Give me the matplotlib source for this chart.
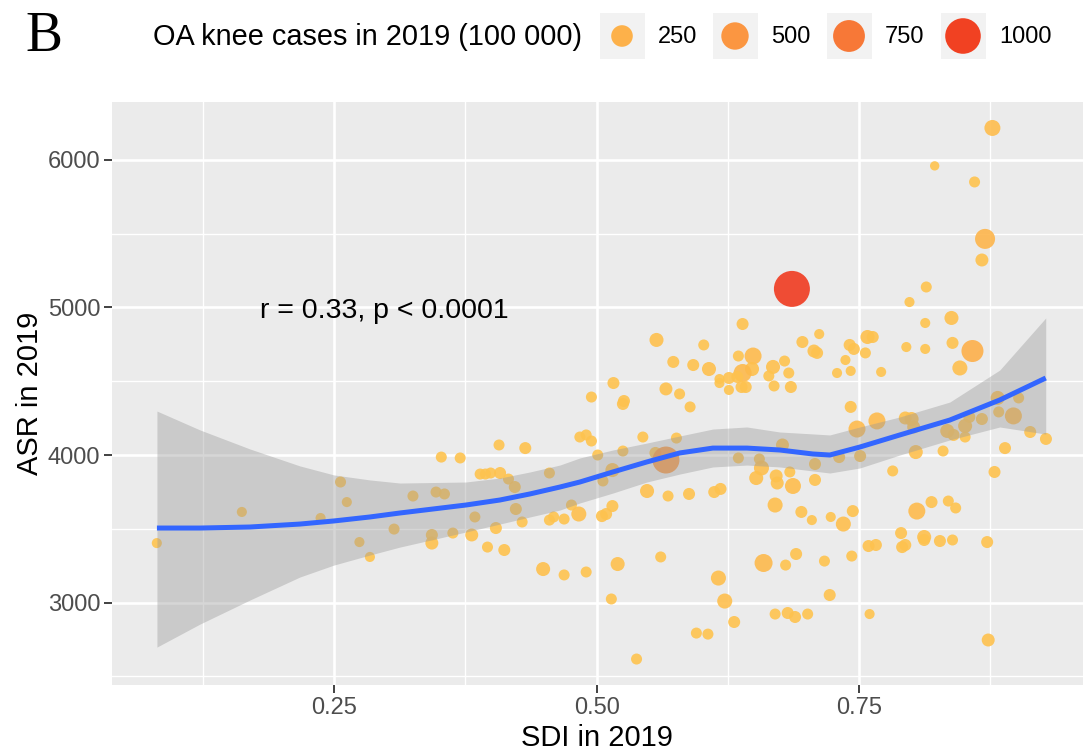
import numpy as np
import matplotlib
matplotlib.use("Agg")
import matplotlib.pyplot as plt
from matplotlib.colors import LinearSegmentedColormap, Normalize
from matplotlib.patches import Rectangle

plt.rcParams['font.family'] = ['Liberation Sans', 'DejaVu Sans']

# one point per country: SDI, age-standardised rate, OA knee cases (100 000)
sdi = [0.081, 0.162, 0.237, 0.256, 0.262, 0.274, 0.284, 0.307, 0.325, 0.343,
       0.343, 0.347, 0.355, 0.352, 0.370, 0.363, 0.381, 0.384, 0.389, 0.394,
       0.399, 0.408, 0.407, 0.396, 0.404, 0.412, 0.416, 0.422, 0.423, 0.429,
       0.432, 0.449, 0.455, 0.469, 0.490, 0.455, 0.459, 0.469, 0.476, 0.483,
       0.495, 0.484, 0.490, 0.495, 0.501, 0.505, 0.509, 0.515, 0.686, 0.639,
       0.712, 0.557, 0.602, 0.696, 0.707, 0.710, 0.573, 0.592, 0.607, 0.635,
       0.649, 0.648, 0.639, 0.634, 0.626, 0.617, 0.617, 0.626, 0.638, 0.642,
       0.668, 0.664, 0.679, 0.683, 0.669, 0.685, 0.516, 0.526, 0.525, 0.566,
       0.579, 0.589, 0.544, 0.576, 0.525, 0.515, 0.506, 0.556, 0.566, 0.548,
       0.568, 0.588, 0.612, 0.618, 0.677, 0.635, 0.655, 0.657, 0.652, 0.671,
       0.672, 0.684, 0.687, 0.708, 0.708, 0.520, 0.561, 0.514, 0.538, 0.616,
       0.622, 0.631, 0.595, 0.606, 0.659, 0.680, 0.690, 0.717, 0.722, 0.670,
       0.682, 0.689, 0.701, 0.670, 0.695, 0.705, 0.723, 0.735, 0.744, 0.743,
       0.760, 0.731, 0.751, 0.742, 0.748, 0.767, 0.794, 0.800, 0.802, 0.804,
       0.782, 0.830, 0.834, 0.840, 0.851, 0.851, 0.855, 0.867, 0.882, 0.883,
       0.897, 0.902, 0.913, 0.928, 0.889, 0.879, 0.805, 0.819, 0.835, 0.842,
       0.790, 0.812, 0.812, 0.827, 0.839, 0.872, 0.791, 0.794, 0.759, 0.766,
       0.873, 0.877, 0.822, 0.860, 0.870, 0.867, 0.814, 0.798, 0.838, 0.813,
       0.741, 0.745, 0.758, 0.763, 0.756, 0.737, 0.729, 0.742, 0.771, 0.795,
       0.813, 0.839, 0.858, 0.846]
asr = [3403, 3614, 3573, 3817, 3681, 3410, 3309, 3498, 3722, 3458,
       3403, 3749, 3736, 3986, 3980, 3471, 3458, 3580, 3871, 3871,
       3878, 3878, 4068, 3376, 3505, 3356, 3837, 3783, 3634, 3546,
       4047, 3227, 3878, 3187, 3207, 3559, 3580, 3566, 3661, 3600,
       4393, 4122, 4136, 4095, 4000, 3586, 3600, 3654, 5126, 4888,
       4820, 4780, 4746, 4766, 4705, 4692, 4631, 4610, 4583, 4671,
       4671, 4583, 4556, 4529, 4522, 4515, 4488, 4441, 4461, 4461,
       4597, 4536, 4637, 4556, 4468, 4461, 4488, 4366, 4346, 4448,
       4414, 4326, 4122, 4115, 4027, 3898, 3824, 4014, 3966, 3756,
       3722, 3736, 3749, 3770, 4068, 3980, 3973, 3912, 3844, 3858,
       3810, 3885, 3790, 3939, 3831, 3261, 3309, 3024, 2617, 3166,
       3010, 2868, 2793, 2786, 3268, 3254, 3329, 3281, 3051, 2922,
       2929, 2902, 2922, 3661, 3614, 3559, 3580, 3532, 3620, 3315,
       2922, 3986, 3993, 4326, 4176, 4231, 4251, 4244, 4190, 4020,
       3892, 4027, 4163, 4136, 4197, 4122, 4258, 4244, 4387, 4292,
       4265, 4387, 4156, 4109, 4047, 3885, 3620, 3681, 3688, 3641,
       3471, 3444, 3424, 3417, 3424, 3410, 3376, 3390, 3383, 3390,
       2746, 6217, 5960, 5851, 5465, 5322, 5139, 5037, 4929, 4895,
       4746, 4719, 4800, 4800, 4692, 4644, 4556, 4570, 4563, 4732,
       4719, 4760, 4705, 4590]
cases = [8, 8, 8, 15, 8, 8, 8, 15, 15, 25,
         37, 15, 15, 15, 15, 15, 37, 15, 15, 15,
         15, 25, 15, 15, 25, 25, 15, 25, 25, 15,
         25, 53, 15, 15, 15, 15, 15, 15, 15, 71,
         15, 15, 15, 15, 15, 25, 25, 25, 1030, 25,
         8, 53, 15, 25, 37, 25, 25, 25, 53, 15,
         113, 53, 138, 25, 25, 8, 8, 8, 25, 25,
         53, 15, 15, 15, 15, 25, 25, 25, 25, 37,
         15, 15, 15, 15, 15, 53, 15, 25, 480, 53,
         15, 25, 25, 25, 37, 15, 15, 71, 53, 37,
         37, 15, 90, 25, 25, 53, 15, 15, 15, 71,
         71, 25, 15, 15, 138, 15, 25, 15, 25, 15,
         25, 25, 15, 71, 25, 8, 8, 71, 25, 15,
         8, 25, 25, 25, 113, 113, 37, 53, 37, 53,
         15, 15, 53, 25, 53, 15, 25, 25, 53, 15,
         113, 15, 25, 25, 25, 25, 113, 25, 15, 15,
         25, 53, 25, 25, 15, 25, 25, 25, 25, 25,
         37, 90, 4, 15, 197, 37, 15, 8, 53, 8,
         25, 25, 53, 25, 15, 8, 8, 8, 8, 8,
         8, 25, 265, 71]

# loess fit and its confidence band
smooth_sdi = [0.0811, 0.1221, 0.1697, 0.2173, 0.2497, 0.2840, 0.3126, 0.3754,
              0.4078, 0.4364, 0.4650, 0.4840, 0.5154, 0.5478, 0.5792, 0.6107,
              0.6431, 0.6745, 0.7059, 0.7221, 0.7507, 0.7888, 0.8364, 0.8840,
              0.9278]
smooth_fit = [3505, 3505, 3512, 3532, 3553, 3580, 3607, 3661,
              3695, 3736, 3783, 3817, 3885, 3953, 4014, 4047,
              4047, 4034, 4007, 4000, 4054, 4136, 4237, 4373,
              4522]
smooth_hi = [4298, 4170, 4041, 3926, 3865, 3831, 3810, 3817,
             3844, 3885, 3932, 3980, 4034, 4081, 4129, 4176,
             4190, 4156, 4143, 4136, 4190, 4258, 4359, 4576,
             4929]
smooth_lo = [2698, 2854, 3017, 3173, 3254, 3322, 3376, 3478,
             3532, 3580, 3627, 3675, 3742, 3817, 3871, 3919,
             3932, 3919, 3892, 3878, 3912, 4000, 4102, 4190,
             4142]

legend_breaks = [250, 500, 750, 1000]
stat_label = "r = 0.33, p < 0.0001"

CASE_MAX = 1030
cmap = LinearSegmentedColormap.from_list(
    'oa', ['#FEC44F', '#FDB04A', '#FB9441', '#F77536', '#F03B20'])
norm = Normalize(0, CASE_MAX)


def marker_area(v):
    # ggplot-like area scale: diameter grows with sqrt of value
    d_px = 7.6 + 28.4 * np.sqrt(np.asarray(v, float) / CASE_MAX)
    return (d_px * 0.72) ** 2


fig = plt.figure(figsize=(10.83, 7.56), dpi=100)
ax = fig.add_axes([112 / 1083, 71 / 756, 971 / 1083, 583 / 756])
ax.set_facecolor('#EBEBEB')
for sp in ax.spines.values():
    sp.set_visible(False)

ax.set_xlim(0.0383, 0.9633)
ax.set_ylim(2441, 6393)
ax.set_xticks([0.25, 0.5, 0.75])
ax.set_xticklabels(['0.25', '0.50', '0.75'])
ax.set_xticks([0.125, 0.375, 0.625, 0.875], minor=True)
ax.set_yticks([3000, 4000, 5000, 6000])
ax.set_yticks([2500, 3500, 4500, 5500], minor=True)
ax.grid(which='major', color='white', linewidth=1.9)
ax.grid(which='minor', color='white', linewidth=1.0)
ax.set_axisbelow(True)
ax.tick_params(which='major', length=5.5, width=1.3, color='#333333',
               labelsize=17, labelcolor='#4D4D4D', pad=3)
ax.tick_params(which='minor', length=0)

ax.scatter(sdi, asr, s=marker_area(cases), c=cases, cmap=cmap, norm=norm,
           alpha=0.9, linewidths=0, zorder=2)
ax.fill_between(smooth_sdi, smooth_lo, smooth_hi, color='#999999', alpha=0.4,
                linewidth=0, zorder=3)
ax.plot(smooth_sdi, smooth_fit, color='#3366FF', lw=3.6, zorder=4,
        solid_capstyle='butt', solid_joinstyle='round')
ax.text(0.179, 4975, stat_label, fontsize=20.5, ha='left', va='center')

fig.text(597 / 1083, 1 - 738 / 756, 'SDI in 2019', fontsize=21,
         ha='center', va='center')
fig.text(30 / 1083, 1 - 393 / 756, 'ASR in 2019', fontsize=21, rotation=90,
         ha='center', va='center')

# legend drawn in pixel space across the top
lax = fig.add_axes([0, 0, 1, 1])
lax.set_xlim(0, 1083)
lax.set_ylim(756, 0)
lax.axis('off')
lax.patch.set_alpha(0)

lax.text(25, 37, 'B', family='Liberation Serif', fontsize=40,
         ha='left', va='center')
lax.text(153, 37, 'OA knee cases in 2019 (100 000)', fontsize=20.8,
         ha='left', va='center')
key_x = [622, 735, 849, 963]
for kx, b in zip(key_x, legend_breaks):
    lax.add_patch(Rectangle((kx - 22.5, 13), 45, 46, color='#F2F2F2', lw=0))
    lax.text(kx + 36, 37, str(b), fontsize=17, ha='left', va='center')
lax.scatter(key_x, [36] * 4, s=marker_area(legend_breaks), c=legend_breaks,
            cmap=cmap, norm=norm, linewidths=0)

fig.savefig('out.png', dpi=100)
